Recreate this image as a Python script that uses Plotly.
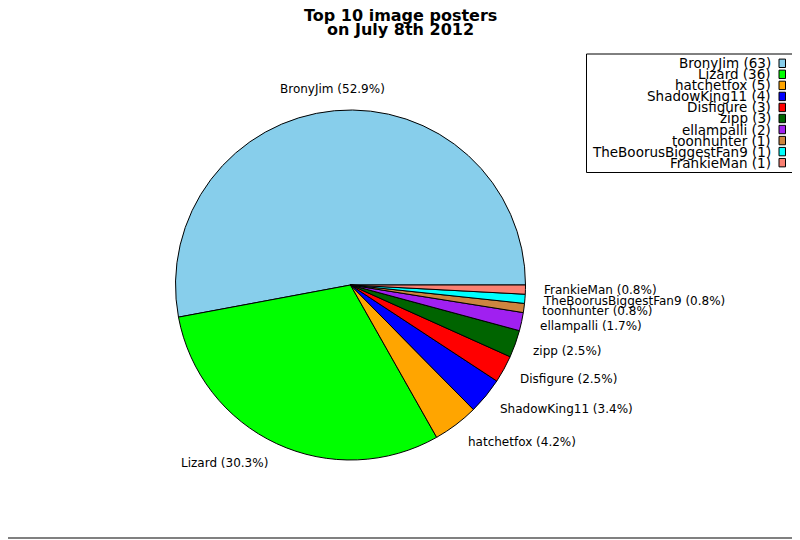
import math
import plotly.graph_objects as go

# data
posters = ["BronyJim", "Lizard", "hatchetfox", "ShadowKing11", "Disfigure",
           "zipp", "ellampalli", "toonhunter", "TheBoorusBiggestFan9", "FrankieMan"]
counts = [63, 36, 5, 4, 3, 3, 2, 1, 1, 1]
colours = ["#87CEEB", "#00FF00", "#FFA500", "#0000FF", "#FF0000",
           "#006400", "#A020F0", "#CD853F", "#00FFFF", "#FA8072"]
title_lines = ["Top 10 image posters", "on July 8th 2012"]

# the page puts the figure 8px in from the top-left corner,
# so the figure is 8px smaller and everything is shifted by that
OFF = 8
W, H = 800 - OFF, 540 - OFF
cx, cy, r = 350.5, 285.0, 175.0   # pie centre / radius in page pixels


def px(x):
    return (x - OFF) / W


def py(y):
    return 1 - (y - OFF) / H


total = float(sum(counts))

fig = go.Figure()
fig.add_trace(go.Pie(
    labels=posters,
    values=counts,
    sort=False,
    direction="counterclockwise",
    # first slice starts at 3 o'clock and runs anticlockwise
    rotation=90 - 360 * counts[0] / total,
    textinfo="none",
    hoverinfo="label+value+percent",
    marker=dict(colors=colours, line=dict(color="black", width=1)),
    domain=dict(x=[px(cx - r), px(cx + r)], y=[py(cy + r), py(cy - r)]),
    showlegend=False,
))

annotations = []
shapes = []

# slice labels just outside the pie
start = 0.0
for name, n in zip(posters, counts):
    frac = n / total
    mid = (start + frac / 2) * 2 * math.pi
    start += frac
    c, s = math.cos(mid), math.sin(mid)
    xt = cx + 1.1 * r * c
    yt = cy - 1.122 * r * s
    if abs(c) < 0.15:
        anchor = "center"
    elif c > 0:
        anchor = "left"
    else:
        anchor = "right"
    annotations.append(dict(
        x=px(xt), y=py(yt), xref="paper", yref="paper",
        text="%s (%.1f%%)" % (name, frac * 100),
        showarrow=False, xanchor=anchor, yanchor="middle",
        font=dict(size=12, color="black"), borderpad=0))

# title, two lines tight together (pushed down a little so the
# first line is not cut by the top of the figure)
for i, line in enumerate(title_lines):
    annotations.append(dict(
        x=px(400), y=py(15 + i * 14), xref="paper", yref="paper",
        text="<b>%s</b>" % line, showarrow=False,
        xanchor="center", yanchor="middle",
        font=dict(size=16, color="black"), borderpad=0))

# legend box: text right-aligned, colour square on the right
row0, pitch = 63.3, 11.04
for i, (name, n, col) in enumerate(zip(posters, counts, colours)):
    yy = row0 + i * pitch
    annotations.append(dict(
        x=px(772), y=py(yy), xref="paper", yref="paper",
        text="%s (%d)" % (name, n), showarrow=False,
        xanchor="right", yanchor="middle",
        font=dict(size=13.5, color="black"), borderpad=0))
    shapes.append(dict(
        type="rect", xref="paper", yref="paper",
        x0=px(779), x1=px(785.5), y0=py(yy - 4.2), y1=py(yy + 4.2),
        fillcolor=col, line=dict(color="black", width=1)))

shapes.append(dict(
    type="rect", xref="paper", yref="paper",
    x0=px(586.5), x1=px(793), y0=py(54), y1=py(172.5),
    line=dict(color="black", width=1), layer="below"))

# outer frame: only the right and bottom edges fall inside the page
frame = dict(color="#808080", width=2)
shapes.append(dict(type="line", xref="paper", yref="paper",
                   x0=px(794), x1=px(794), y0=py(538), y1=1, line=frame))
shapes.append(dict(type="line", xref="paper", yref="paper",
                   x0=0, x1=px(794), y0=py(538), y1=py(538), line=frame))

fig.update_layout(
    width=W, height=H,
    margin=dict(l=0, r=0, t=0, b=0),
    paper_bgcolor="white",
    plot_bgcolor="white",
    font=dict(family="DejaVu Sans", color="black"),
    annotations=annotations,
    shapes=shapes,
)

fig.write_html("out.html")
